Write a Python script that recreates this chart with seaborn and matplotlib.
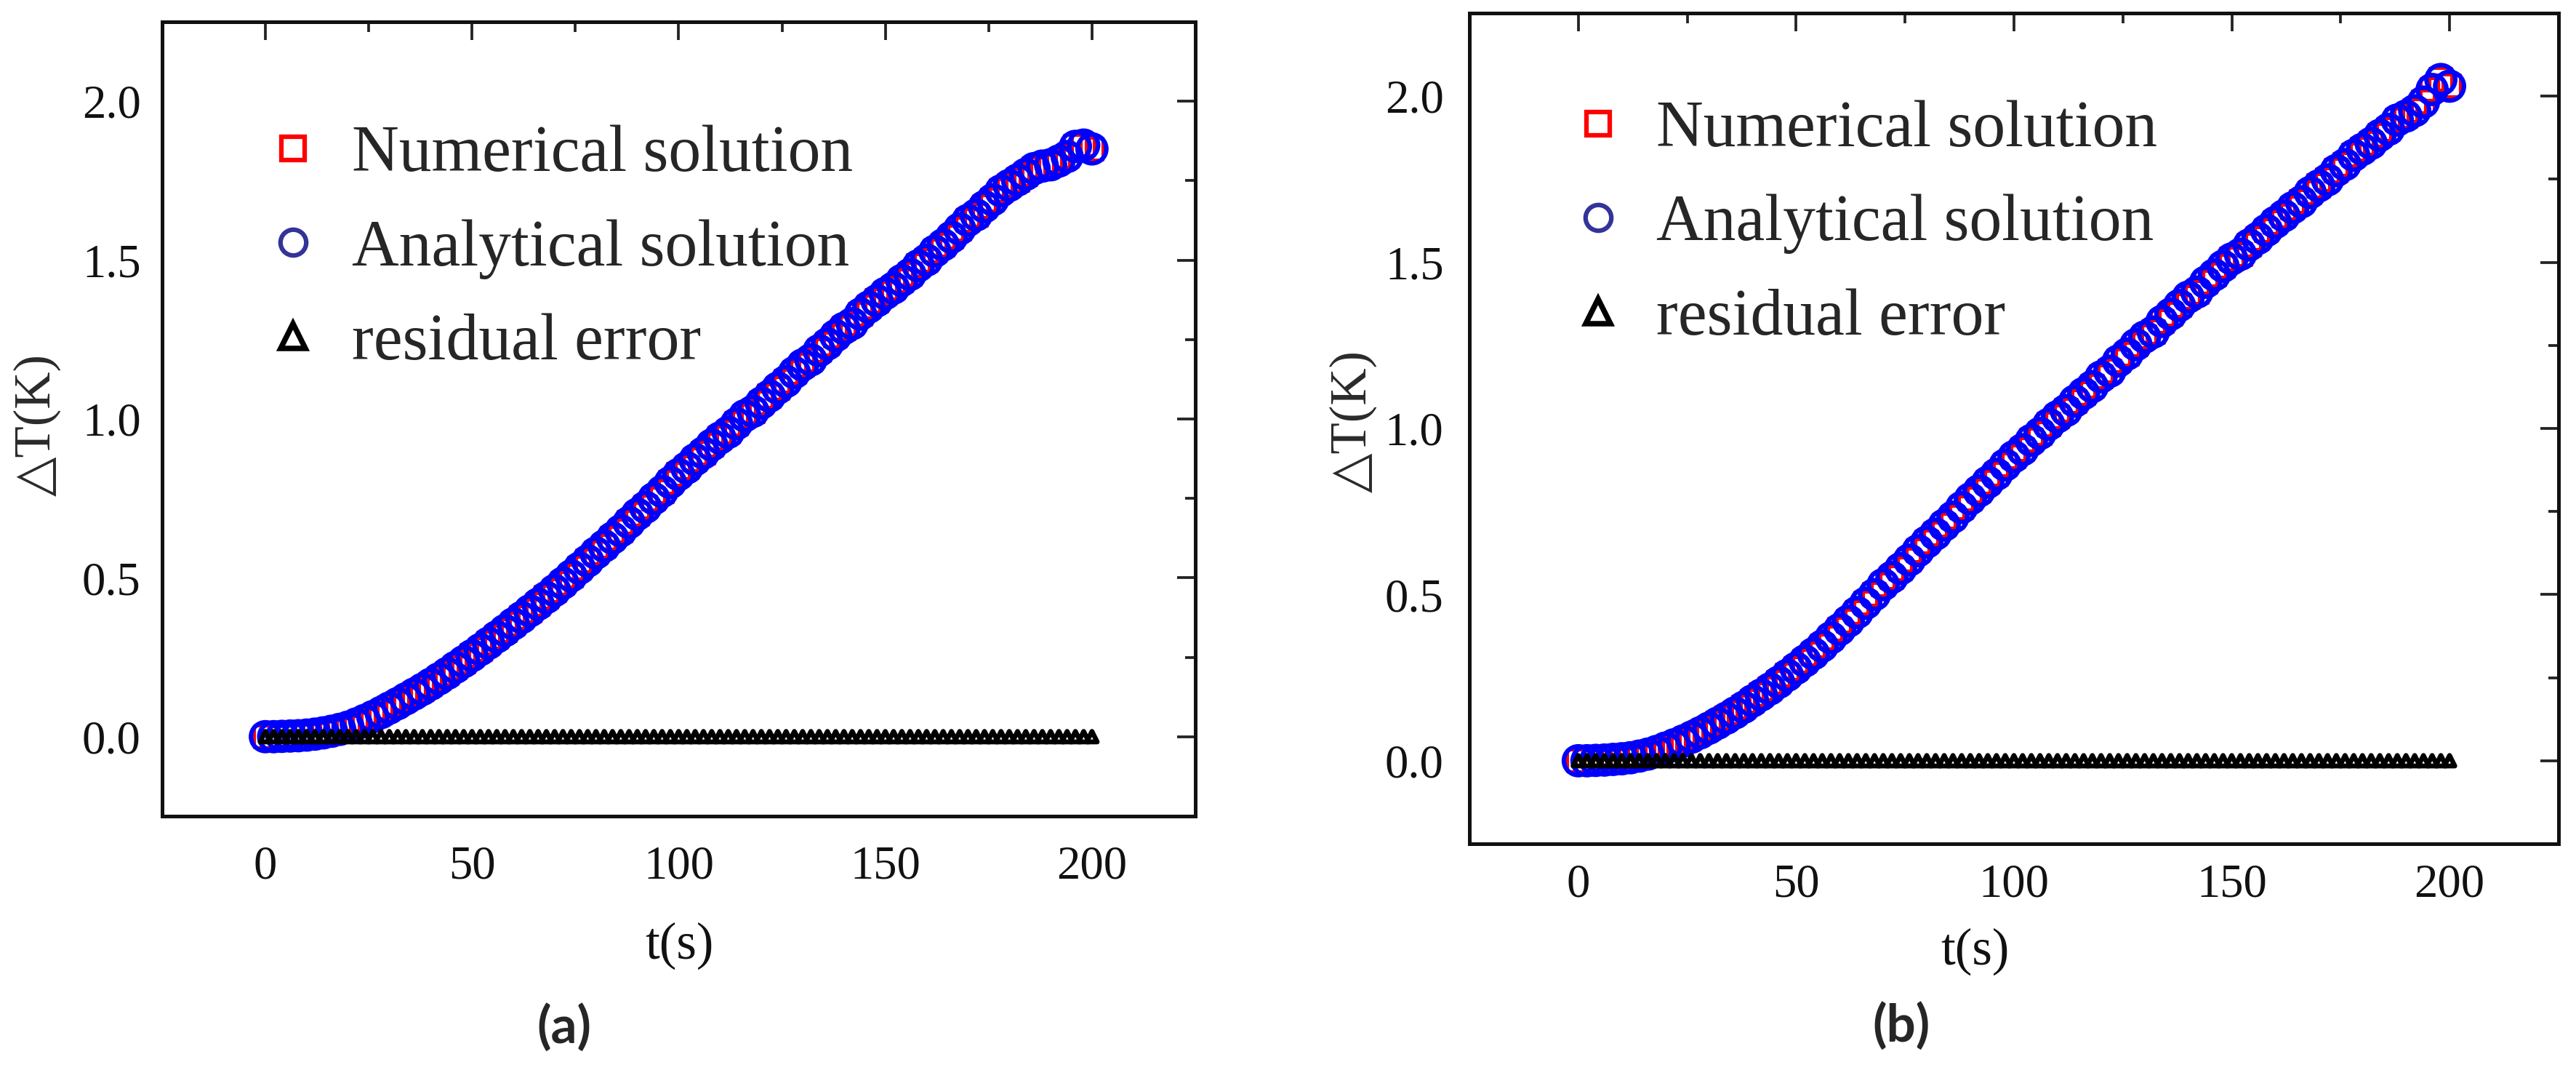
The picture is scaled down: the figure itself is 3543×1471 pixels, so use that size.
"""Temperature rise: numerical vs analytical solution, two cases (a) and (b)."""
import numpy as np
import pandas as pd
import seaborn as sns
from matplotlib import pyplot as plt
from matplotlib.lines import Line2D
from matplotlib.ticker import MultipleLocator

# time samples (s)
t = np.arange(0, 201, 2)

# panel (a) temperature rise (K)
dT_a = [0.000, 0.000, 0.001, 0.002, 0.003, 0.005, 0.008, 0.012, 0.017, 0.023,
        0.030, 0.040, 0.051, 0.063, 0.076, 0.090, 0.104, 0.119, 0.134, 0.149,
        0.165, 0.182, 0.199, 0.218, 0.236, 0.255, 0.274, 0.294, 0.314, 0.334,
        0.355, 0.375, 0.396, 0.417, 0.438, 0.460, 0.483, 0.506, 0.530, 0.553,
        0.578, 0.600, 0.625, 0.648, 0.674, 0.700, 0.722, 0.749, 0.772, 0.800,
        0.825, 0.846, 0.872, 0.893, 0.918, 0.940, 0.958, 0.985, 1.010, 1.024,
        1.050, 1.072, 1.097, 1.118, 1.146, 1.170, 1.186, 1.215, 1.236, 1.262,
        1.285, 1.300, 1.330, 1.352, 1.372, 1.395, 1.412, 1.436, 1.455, 1.482,
        1.500, 1.528, 1.548, 1.572, 1.598, 1.625, 1.642, 1.668, 1.690, 1.718,
        1.735, 1.752, 1.770, 1.788, 1.796, 1.800, 1.812, 1.826, 1.858, 1.862,
        1.850]

# panel (b)
dT_b = [0.000, 0.000, 0.001, 0.002, 0.004, 0.006, 0.009, 0.014, 0.020, 0.028,
        0.038, 0.048, 0.059, 0.071, 0.084, 0.098, 0.113, 0.128, 0.144, 0.161,
        0.180, 0.198, 0.216, 0.236, 0.257, 0.278, 0.300, 0.322, 0.345, 0.370,
        0.395, 0.420, 0.446, 0.474, 0.500, 0.530, 0.552, 0.578, 0.604, 0.632,
        0.658, 0.682, 0.709, 0.733, 0.762, 0.788, 0.812, 0.838, 0.862, 0.890,
        0.915, 0.936, 0.964, 0.985, 1.012, 1.035, 1.054, 1.082, 1.105, 1.126,
        1.155, 1.172, 1.203, 1.224, 1.252, 1.275, 1.290, 1.322, 1.344, 1.370,
        1.395, 1.410, 1.440, 1.462, 1.488, 1.510, 1.524, 1.552, 1.572, 1.596,
        1.620, 1.640, 1.664, 1.682, 1.710, 1.730, 1.748, 1.776, 1.794, 1.822,
        1.840, 1.858, 1.882, 1.900, 1.928, 1.940, 1.956, 1.982, 2.020, 2.050,
        2.030]

# residual error is zero everywhere at this scale
res_a = [0.0] * len(t)
res_b = [0.0] * len(t)

labels = ['Numerical solution', 'Analytical solution', 'residual error']
panel_names = ['(a)', '(b)']

SERIF = ['Liberation Serif', 'DejaVu Sans']


def style_axes(ax, xpad, ypad):
    ax.set_xlim(-25, 225)
    ax.set_ylim(-0.25, 2.25)
    ax.xaxis.set_major_locator(MultipleLocator(50))
    ax.xaxis.set_minor_locator(MultipleLocator(25))
    ax.yaxis.set_major_locator(MultipleLocator(0.5))
    ax.yaxis.set_minor_locator(MultipleLocator(0.25))
    ax.yaxis.set_major_formatter(lambda v, p: '{:.1f}'.format(v))
    ax.tick_params(which='both', direction='in', top=True, right=True,
                   color='#222222', width=0.9)
    ax.tick_params(which='major', length=6)
    ax.tick_params(which='minor', length=3.4)
    ax.tick_params(axis='x', which='major', pad=xpad, labelsize=15.5,
                   labelcolor='#111111')
    ax.tick_params(axis='y', which='major', pad=ypad, labelsize=15.5,
                   labelcolor='#111111')
    for lab in ax.get_xticklabels() + ax.get_yticklabels():
        lab.set_family(SERIF)
    for sp in ax.spines.values():
        sp.set_linewidth(1.2)
        sp.set_color('#111111')


def draw_panel(ax, dT, res):
    df = pd.DataFrame({'t': t, 'num': dT, 'ana': dT, 'res': res})
    sns.scatterplot(data=df, x='t', y='num', marker='s', s=52, ax=ax,
                    color='#ff0000', linewidth=1.0, zorder=2)
    ax.collections[-1].set_facecolor('none')
    ax.collections[-1].set_edgecolor('#ff0000')
    sns.scatterplot(data=df, x='t', y='ana', marker='o', s=90, ax=ax,
                    color='#0000ff', linewidth=1.5, zorder=3)
    ax.collections[-1].set_facecolor('none')
    ax.collections[-1].set_edgecolor('#0000ff')
    sns.scatterplot(data=df, x='t', y='res', marker='^', s=12, ax=ax,
                    color='black', linewidth=1.6, zorder=4)
    ax.collections[-1].set_facecolor('none')
    ax.collections[-1].set_edgecolor('black')

    handles = [
        Line2D([], [], ls='', marker='s', ms=7.5, mfc='none', mec='#ff0000', mew=1.5),
        Line2D([], [], ls='', marker='o', ms=8.5, mfc='none', mec='#333399', mew=1.5),
        Line2D([], [], ls='', marker='^', ms=8, mfc='none', mec='black', mew=1.8),
    ]
    return handles


def main():
    sns.set_style('white')
    plt.rcParams['font.family'] = SERIF

    fig = plt.figure(figsize=(3543 / 300, 1471 / 300), dpi=300)
    ax_a = fig.add_axes([0.0629, 0.2373, 0.4011, 0.7423])
    ax_b = fig.add_axes([0.5704, 0.2114, 0.4228, 0.7764])

    setups = [
        # axes, data, residual, xpad, ypad, legend anchor, xlabel pos, ylabel pos, letter pos
        (ax_a, dT_a, res_a, 9.5, 7.0, (0.108, 0.870), (0.501, -0.133), (-0.098, 0.493), (776, 1412)),
        (ax_b, dT_b, res_b, 6.5, 8.5, (0.100, 0.895), (0.464, -0.101), (-0.085, 0.509), (2615, 1410)),
    ]
    for i, (ax, dT, res, xpad, ypad, leg_at, xl_at, yl_at, let_at) in enumerate(setups):
        handles = draw_panel(ax, dT, res)
        style_axes(ax, xpad, ypad)
        ax.set_xlabel('t(s)', fontsize=17, color='#111111')
        ax.set_ylabel('\u25b3T(K)', fontsize=17, color='#2a2a2a')
        ax.xaxis.set_label_coords(*xl_at)
        ax.yaxis.set_label_coords(*yl_at)
        ax.legend(handles, labels, loc='upper left', bbox_to_anchor=leg_at,
                  frameon=False, fontsize=21.5, borderpad=0, borderaxespad=0,
                  handlelength=0.6, handletextpad=0.6, labelspacing=0.52)
        fig.text(let_at[0] / 3543, 1 - let_at[1] / 1471, panel_names[i],
                 ha='center', va='center', fontsize=17, fontweight='bold',
                 family=['Lato', 'DejaVu Sans'])

    fig.savefig('out.png', dpi=300)


if __name__ == '__main__':
    main()
